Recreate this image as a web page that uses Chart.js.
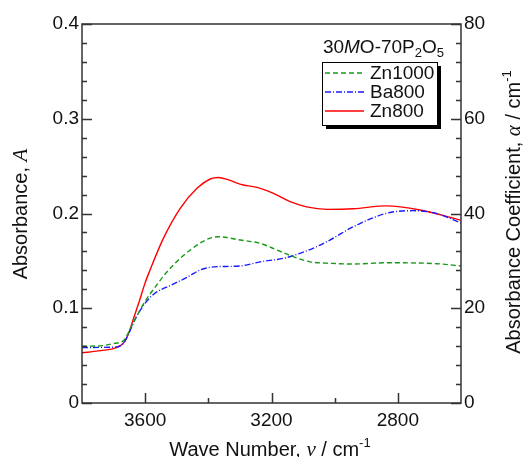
<!DOCTYPE html>
<html>
<head>
<meta charset="utf-8">
<script src="https://cdn.jsdelivr.net/npm/chart.js@4.4.1/dist/chart.umd.min.js"></script>
<style>
  body { margin: 0; background: #fff; }
  #wrap { width: 523px; height: 457px; }
</style>
</head>
<body>
<div id="wrap"><canvas id="grafico" width="523" height="457"></canvas></div>
<script>
// valores (numero de onda em cm-1, absorbancia)
const wnZn1000 = [3800, 3748, 3696, 3669, 3654, 3633, 3601, 3569, 3532, 3478, 3457, 3420, 3394, 3368, 3299, 3236, 3183, 3131, 3078, 3010, 2941, 2836, 2677, 2600];
const absZn1000 = [0.060, 0.0602, 0.063, 0.0657, 0.0736, 0.0876, 0.107, 0.122, 0.138, 0.156, 0.1615, 0.170, 0.174, 0.1755, 0.172, 0.1685, 0.1615, 0.1544, 0.149, 0.1474, 0.1467, 0.148, 0.147, 0.1446];

const wnBa800 = [3800, 3748, 3696, 3669, 3654, 3633, 3601, 3569, 3517, 3464, 3426, 3394, 3373, 3299, 3236, 3162, 3110, 3057, 3015, 2941, 2836, 2752, 2677, 2600];
const absBa800 = [0.0584, 0.0587, 0.059, 0.063, 0.0718, 0.0876, 0.105, 0.1158, 0.1245, 0.1333, 0.1404, 0.1432, 0.1439, 0.1446, 0.149, 0.1527, 0.158, 0.165, 0.172, 0.186, 0.2002, 0.203, 0.200, 0.190];

const wnZn800 = [3800, 3748, 3696, 3669, 3654, 3638, 3617, 3601, 3585, 3542, 3489, 3436, 3394, 3368, 3340, 3321, 3289, 3257, 3226, 3194, 3141, 3089, 3025, 2941, 2836, 2730, 2600];
const absZn800 = [0.053, 0.055, 0.058, 0.063, 0.072, 0.088, 0.109, 0.126, 0.140, 0.174, 0.2055, 0.2266, 0.2364, 0.238, 0.236, 0.2336, 0.2301, 0.2283, 0.2255, 0.2213, 0.2125, 0.207, 0.2044, 0.205, 0.208, 0.2037, 0.193];

const nomesSeries = ['Zn1000', 'Ba800', 'Zn800'];
const coresSeries = ['#169a16', '#1a1aff', '#ff0000'];
const tracosSeries = [[5, 3], [6, 2, 1, 2], []];

const ticksX = [3600, 3200, 2800];
const ticksEsq = [0, 0.1, 0.2, 0.3, 0.4];
const ticksDir = [0, 20, 40, 60, 80];

const fonte = "'Liberation Sans', Arial, sans-serif";
const fonteSerif = "'Liberation Serif', 'Times New Roman', serif";

function montarPontos(xs, ys) {
    let pts = [];
    for (let i = 0; i < xs.length; i++) {
        pts.push({ x: xs[i], y: ys[i] });
    }
    return pts;
}

const listaX = [wnZn1000, wnBa800, wnZn800];
const listaY = [absZn1000, absBa800, absZn800];
var datasets = [];
for (let i = 0; i < nomesSeries.length; i++) {
    datasets.push({
        label: nomesSeries[i],
        data: montarPontos(listaX[i], listaY[i]),
        borderColor: coresSeries[i],
        borderDash: tracosSeries[i],
        borderWidth: 1.4,
        pointRadius: 0,
        cubicInterpolationMode: 'monotone',
        fill: false,
        yAxisID: 'y'
    });
}

// desenha texto com partes (italico, sub/sobrescrito), centrado em x
function textoRico(ctx, partes, x, y, alinhar) {
    let larg = 0;
    partes.forEach(function (p) { ctx.font = p.f; larg += ctx.measureText(p.t).width; });
    let x0 = alinhar === 'right' ? x - larg : x - larg / 2;
    ctx.textBaseline = 'alphabetic';
    ctx.textAlign = 'left';
    partes.forEach(function (p) {
        ctx.font = p.f;
        ctx.fillText(p.t, x0, y + (p.dy || 0));
        x0 += ctx.measureText(p.t).width;
    });
}

const pluginMoldura = {
    id: 'moldura',
    afterDraw: function (chart) {
        const ctx = chart.ctx;
        const a = chart.chartArea;
        const sx = chart.scales.x, sy = chart.scales.y;
        ctx.save();
        ctx.strokeStyle = '#333';
        ctx.lineWidth = 1.5;
        ctx.strokeRect(a.left, a.top, a.right - a.left, a.bottom - a.top);

        // ticks para dentro
        ctx.beginPath();
        for (let v = 0; v <= 0.4001; v += 0.02) {
            let py = Math.round(sy.getPixelForValue(v)) + 0.5;
            let maior = Math.abs(v * 10 - Math.round(v * 10)) < 1e-6;
            let t = maior ? 10 : 5;
            ctx.moveTo(a.left, py); ctx.lineTo(a.left + t, py);
            ctx.moveTo(a.right, py); ctx.lineTo(a.right - t, py);
        }
        for (let v = 2800; v <= 3600; v += 200) {
            let px = Math.round(sx.getPixelForValue(v)) + 0.5;
            let t = ticksX.indexOf(v) >= 0 ? 10 : 5;
            ctx.moveTo(px, a.bottom); ctx.lineTo(px, a.bottom - t);
        }
        ctx.stroke();

        // legenda
        const lx = 322, ly = 62, lw = 115, lh = 63;
        ctx.fillStyle = '#000';
        ctx.fillRect(lx + 4, ly + 4, lw, lh);
        ctx.fillStyle = '#fff';
        ctx.fillRect(lx, ly, lw, lh);
        ctx.strokeStyle = '#000';
        ctx.lineWidth = 1;
        ctx.strokeRect(lx + 0.5, ly + 0.5, lw, lh);
        for (let i = 0; i < nomesSeries.length; i++) {
            let yy = 73 + i * 19;
            ctx.beginPath();
            ctx.strokeStyle = coresSeries[i];
            ctx.lineWidth = 1.4;
            ctx.setLineDash(tracosSeries[i]);
            ctx.moveTo(325, yy); ctx.lineTo(364, yy);
            ctx.stroke();
            ctx.setLineDash([]);
            ctx.fillStyle = '#111';
            ctx.font = '19px ' + fonte;
            ctx.textBaseline = 'middle';
            ctx.textAlign = 'left';
            ctx.fillText(nomesSeries[i], 370, yy + 1);
        }

        // titulo da composicao
        ctx.fillStyle = '#111';
        const fN = '19px ' + fonte, fI = 'italic 19px ' + fonte, fS = '13px ' + fonte;
        textoRico(ctx, [
            { t: '30', f: fN }, { t: 'M', f: fI }, { t: 'O-70P', f: fN },
            { t: '2', f: fS, dy: 4 }, { t: 'O', f: fN }, { t: '5', f: fS, dy: 4 }
        ], 444, 53, 'right');

        // titulos dos eixos
        const fT = '20px ' + fonte, fTi = 'italic 21px ' + fonteSerif, fSup = '13px ' + fonte;
        textoRico(ctx, [
            { t: 'Wave Number, ', f: fT }, { t: '\u03bd', f: fTi }, { t: ' / cm', f: fT }, { t: '-1', f: fSup, dy: -9 }
        ], 270, 456);

        ctx.save();
        ctx.translate(27, 214);
        ctx.rotate(-Math.PI / 2);
        textoRico(ctx, [{ t: 'Absorbance, ', f: fT }, { t: 'A', f: fTi }], 0, 0);
        ctx.restore();

        ctx.save();
        ctx.translate(520, 212);
        ctx.rotate(-Math.PI / 2);
        textoRico(ctx, [
            { t: 'Absorbance Coefficient, ', f: fT }, { t: '\u03b1', f: fTi }, { t: ' / cm', f: fT }, { t: '-1', f: fSup, dy: -9 }
        ], 0, 0);
        ctx.restore();

        ctx.restore();
    }
};

const configGrafico = document.getElementById('grafico');
var grafico = new Chart(configGrafico, {
    type: 'line',
    data: { datasets: datasets },
    options: {
        responsive: false,
        animation: false,
        layout: { padding: { top: 24, left: 0, right: 0, bottom: 0 } },
        plugins: {
            legend: { display: false },
            tooltip: { enabled: false }
        },
        scales: {
            x: {
                type: 'linear',
                reverse: true,
                min: 2600,
                max: 3800,
                afterBuildTicks: function (s) { s.ticks = ticksX.map(v => ({ value: v })); },
                afterFit: function (s) { s.height = 54; },
                grid: { display: false, drawTicks: false },
                border: { display: false },
                ticks: {
                    color: '#111', padding: 6, maxRotation: 0, font: { family: fonte, size: 19 },
                    callback: function (v) { return String(v); }
                }
            },
            y: {
                type: 'linear',
                position: 'left',
                min: 0,
                max: 0.4,
                afterBuildTicks: function (s) { s.ticks = ticksEsq.map(v => ({ value: v })); },
                afterFit: function (s) { s.width = 82; },
                grid: { display: false, drawTicks: false },
                border: { display: false },
                ticks: {
                    color: '#111', padding: 3, font: { family: fonte, size: 19 },
                    callback: function (v) { return v === 0 ? '0' : v.toFixed(1); }
                }
            },
            y2: {
                type: 'linear',
                position: 'right',
                min: 0,
                max: 80,
                afterBuildTicks: function (s) { s.ticks = ticksDir.map(v => ({ value: v })); },
                afterFit: function (s) { s.width = 62; },
                grid: { display: false, drawTicks: false },
                border: { display: false },
                ticks: { color: '#111', padding: 3, font: { family: fonte, size: 19 } }
            }
        }
    },
    plugins: [pluginMoldura]
});
</script>
</body>
</html>
